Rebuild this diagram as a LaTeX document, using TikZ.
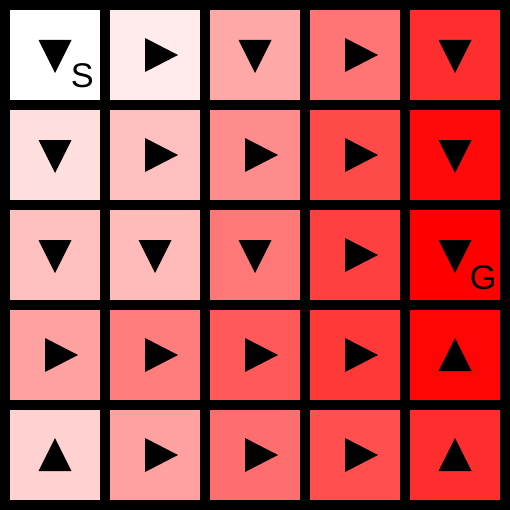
\documentclass[tikz,border=0pt]{standalone}
\usepackage{fontspec}
\setmainfont{Liberation Sans}
\usetikzlibrary{positioning}

\tikzset{
  cell/.style={fill=red!#1!white, minimum size=1.8cm, inner sep=0pt,
               outer sep=0pt},
  letter/.style={font=\fontsize{19.5}{19.5}\selectfont, inner sep=0pt,
               anchor=base west},
  pics/d/.style={code={\fill (-16.5,-15) -- (16.5,-15) -- (0,18) -- cycle;}},
  pics/u/.style={code={\fill (-16.5,16) -- (16.5,16) -- (0,-17) -- cycle;}},
  pics/r/.style={code={\fill (-10,-17) -- (-10,17) -- (23,0) -- cycle;}}
}

\begin{document}
\begin{tikzpicture}[x=0.02cm, y=-0.02cm]
  \fill[black] (0,0) rectangle (510,510);

  % shade / direction for each cell, row by row
  \foreach \row [count=\r from 0] in
    {{0/d,8/r,34/d,54/r,82/d},
     {13/d,25/r,45/r,71/r,96/d},
     {25/d,27/d,53/d,75/r,100/d},
     {37/r,51/r,65/r,78/r,98/u},
     {18/u,37/r,57/r,69/r,82/u}}
    \foreach \p/\a [count=\c from 0] in \row {
      \node[cell=\p] (c\r\c) at (55+100*\c, 55+100*\r) {};
      \pic at (c\r\c) {\a};
    }

  \node[letter] (start) at (70.5,88) {S};
  \node[letter] (goal) at (469.5,289) {G};
\end{tikzpicture}
\end{document}
